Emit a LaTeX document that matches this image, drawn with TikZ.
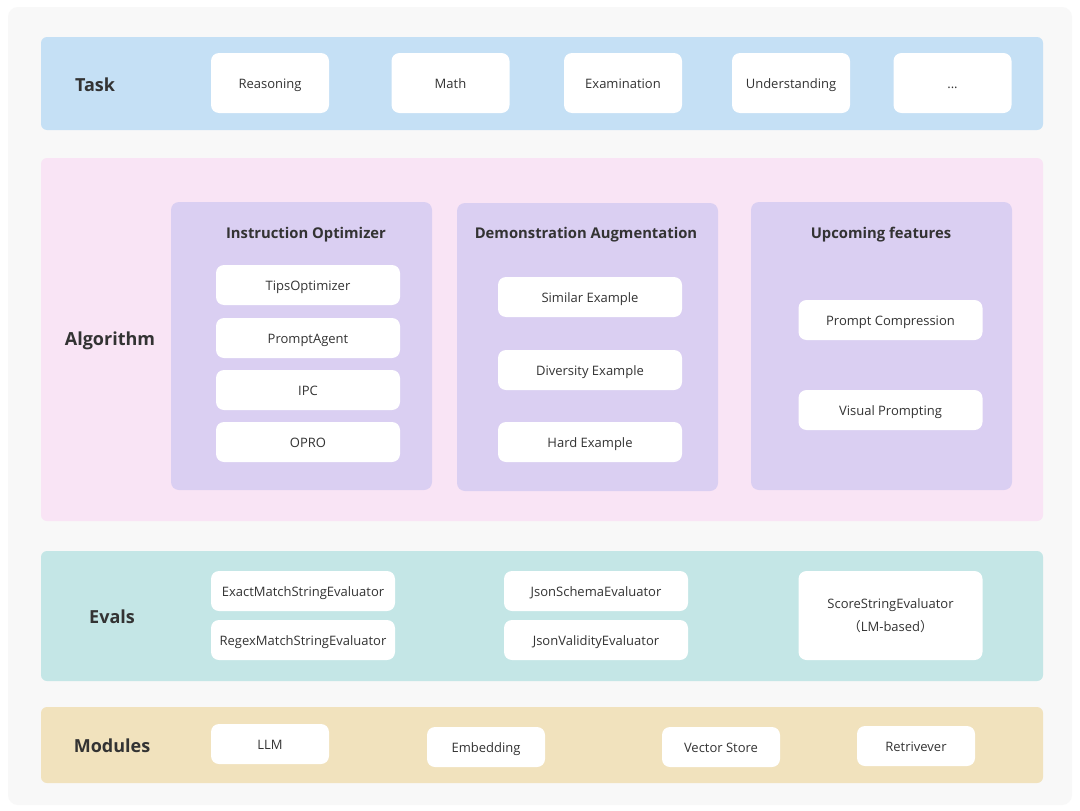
\documentclass[tikz,border=0pt]{standalone}
\usepackage{fontspec}
\setmainfont{Open Sans}
\newfontfamily\cjk{Noto Sans CJK SC}
\usepackage{tikz}
\definecolor{pagegray}{HTML}{F8F8F8}
\definecolor{taskblue}{HTML}{C5E0F5}
\definecolor{algopink}{HTML}{F9E4F5}
\definecolor{panellav}{HTML}{DACFF2}
\definecolor{evalteal}{HTML}{C4E6E6}
\definecolor{modbeige}{HTML}{F1E2BD}
\definecolor{textgray}{HTML}{333333}

\begin{document}
\begin{tikzpicture}[x=1pt,y=-1pt,
    band/.style={draw=none,rounded corners=6pt,minimum width=1002,inner sep=0pt},
    panel/.style={draw=none,fill=panellav,rounded corners=8pt,minimum width=261,minimum height=288,inner sep=0pt},
    item/.style={draw=none,fill=white,rounded corners=8pt,minimum width=184,minimum height=40,inner sep=0pt,
      align=center,text=textgray,font=\fontsize{13}{23}\selectfont},
    one line/.style={text height=10.5pt,text depth=0pt},
    small item/.style={item,one line,minimum width=118},
    layer label/.style={text=textgray,font=\fontsize{18}{22}\selectfont\bfseries},
    panel title/.style={text=textgray,font=\fontsize{14.8}{17}\selectfont\bfseries}]
    \useasboundingbox (0,0) rectangle (1080,811);
    \fill[white] (0,0) rectangle (1080,811);
    \fill[pagegray,rounded corners=10pt] (8,7) rectangle (1072,805);
    % layers
    \node[band,fill=taskblue,minimum height=93] (task) at (542,83.5) {};
    \node[band,fill=algopink,minimum height=363] (algo) at (542,339.5) {};
    \node[band,fill=evalteal,minimum height=130] (evals) at (542,616) {};
    \node[band,fill=modbeige,minimum height=76] (modules) at (542,745) {};
    \node[layer label] (task_lbl) at (95,85) {Task};
    \node[layer label] (algo_lbl) at (110,341) {Algorithm};
    \node[layer label] (evals_lbl) at (112,617) {Evals};
    \node[layer label] (modules_lbl) at (112,746) {Modules};
    % task
    \node[small item,minimum height=60] (reasoning) at (270,83) {Reasoning};
    \node[small item,minimum height=60] (math) at (450.5,83) {Math};
    \node[small item,minimum height=60] (exam) at (623,83) {Examination};
    \node[small item,minimum height=60] (underst) at (791,83) {Understanding};
    \node[small item,minimum height=60] (more) at (952.5,83) {...};
    % algorithm
    \node[panel] (instr) at (301.5,346) {};
    \node[panel] (demo) at (587.5,347) {};
    \node[panel] (upcoming) at (881.5,346) {};
    \node[panel title] (instr_title) at (306,235) {Instruction Optimizer};
    \node[panel title] (demo_title) at (586,235) {Demonstration Augmentation};
    \node[panel title] (upcoming_title) at (881,235) {Upcoming features};
    \node[item,one line] (tips) at (308,285) {TipsOptimizer};
    \node[item,one line] (agent) at (308,338) {PromptAgent};
    \node[item,one line] (ipc) at (308,390) {IPC};
    \node[item,one line] (opro) at (308,442) {OPRO};
    \node[item,one line] (similar) at (590,297) {Similar Example};
    \node[item,one line] (diversity) at (590,370) {Diversity Example};
    \node[item,one line] (hard) at (590,442) {Hard Example};
    \node[item,one line] (compress) at (890.5,320) {Prompt Compression};
    \node[item,one line] (visual) at (890.5,410) {Visual Prompting};
    % evals
    \node[item,one line] (exact) at (303,591) {ExactMatchStringEvaluator};
    \node[item,one line] (regex) at (303,640) {RegexMatchStringEvaluator};
    \node[item,one line] (schema) at (596,591) {JsonSchemaEvaluator};
    \node[item,one line] (validity) at (596,640) {JsonValidityEvaluator};
    \node[item,minimum height=89] (score) at (890.5,615.5) {ScoreStringEvaluator\\{\cjk （}LM-based{\cjk ）}};
    % modules
    \node[small item] (llm) at (270,744) {LLM};
    \node[small item] (embed) at (486,747) {Embedding};
    \node[small item] (vector) at (721,747) {Vector Store};
    \node[small item] (retr) at (916,746) {Retrivever};
\end{tikzpicture}
\end{document}
